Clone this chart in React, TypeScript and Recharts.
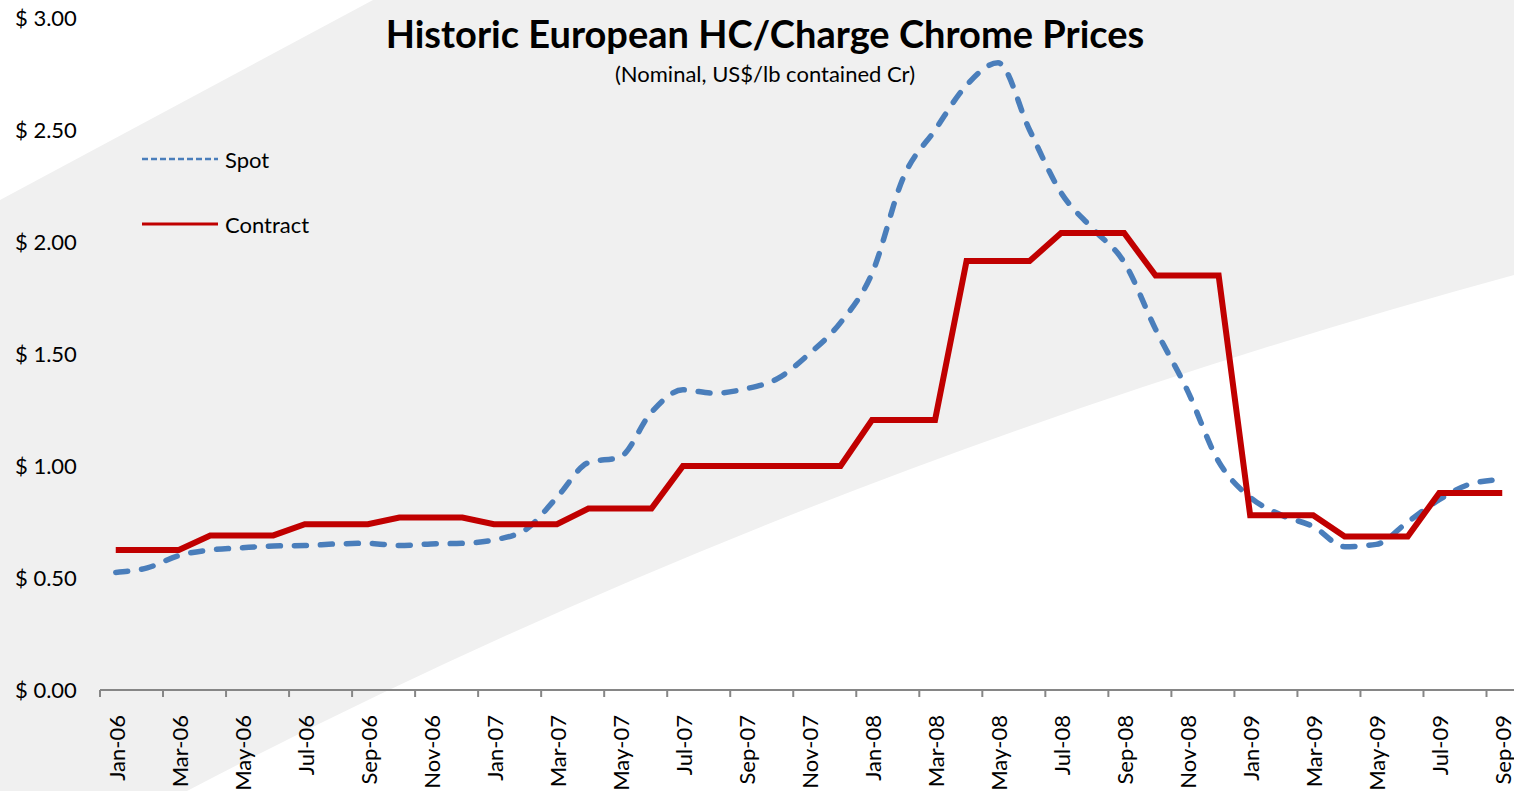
import { LineChart, Line, XAxis, YAxis, Legend } from 'recharts'

const months = [
    'Jan-06', 'Feb-06', 'Mar-06', 'Apr-06', 'May-06', 'Jun-06', 'Jul-06', 'Aug-06', 'Sep-06', 'Oct-06', 'Nov-06', 'Dec-06',
    'Jan-07', 'Feb-07', 'Mar-07', 'Apr-07', 'May-07', 'Jun-07', 'Jul-07', 'Aug-07', 'Sep-07', 'Oct-07', 'Nov-07', 'Dec-07',
    'Jan-08', 'Feb-08', 'Mar-08', 'Apr-08', 'May-08', 'Jun-08', 'Jul-08', 'Aug-08', 'Sep-08', 'Oct-08', 'Nov-08', 'Dec-08',
    'Jan-09', 'Feb-09', 'Mar-09', 'Apr-09', 'May-09', 'Jun-09', 'Jul-09', 'Aug-09', 'Sep-09',
]

const spot = [
    0.525, 0.545, 0.6, 0.625, 0.635, 0.643, 0.645, 0.652, 0.655, 0.645, 0.652, 0.655,
    0.67, 0.715, 0.86, 1.015, 1.04, 1.24, 1.34, 1.325, 1.345, 1.39, 1.5, 1.64,
    1.86, 2.29, 2.5, 2.7, 2.8, 2.5, 2.22, 2.06, 1.91, 1.61, 1.34, 1.02,
    0.86, 0.78, 0.73, 0.64, 0.65, 0.75, 0.85, 0.92, 0.94,
]

const contract = [
    0.625, 0.625, 0.625, 0.69, 0.69, 0.69, 0.74, 0.74, 0.74, 0.77, 0.77, 0.77,
    0.74, 0.74, 0.74, 0.81, 0.81, 0.81, 1.0, 1.0, 1.0, 1.0, 1.0, 1.0,
    1.205, 1.205, 1.205, 1.915, 1.915, 1.915, 2.04, 2.04, 2.04, 1.85, 1.85, 1.85,
    0.78, 0.78, 0.78, 0.685, 0.685, 0.685, 0.88, 0.88, 0.88,
]

const yTicks = [0, 0.5, 1, 1.5, 2, 2.5, 3]

const FONT = 'Lato, sans-serif'
const AXIS_GREY = '#868686'
// half of one month's slot on the x axis (plot is 1418px for 45 months)
const HALF_SLOT = 15.75

const data = months.map((m, i) => ({ month: m, spot: spot[i], contract: contract[i] }))

const YTick = (props: any) => {
    const { y, payload } = props
    return (
        <text x={15} y={y} dy={8} textAnchor="start" fontSize={22} fontFamily={FONT} fill="#000">
            {`$ ${Number(payload.value).toFixed(2)}`}
        </text>
    )
}

const XTick = (props: any) => {
    const { x, y, payload } = props
    // tick marks sit on the month boundary, not the centre
    return (
        <g>
            <line x1={x - HALF_SLOT} x2={x - HALF_SLOT} y1={y} y2={y + 7} stroke={AXIS_GREY} strokeWidth={2} />
            <text
                transform={`translate(${x + 9},${y + 25}) rotate(-90)`}
                textAnchor="end"
                fontSize={22}
                fontFamily={FONT}
                fill="#000"
            >
                {payload.value}
            </text>
        </g>
    )
}

const LegendBox = () => (
    <div style={{ fontFamily: FONT, fontSize: 22, color: '#000' }}>
        <div style={{ display: 'flex', alignItems: 'center', height: 40, marginBottom: 25 }}>
            <svg width={76} height={6}>
                <line x1={0} x2={76} y1={3} y2={3} stroke="#4a7ebb" strokeWidth={2.5} strokeDasharray="6 3" />
            </svg>
            <span style={{ marginLeft: 7 }}>Spot</span>
        </div>
        <div style={{ display: 'flex', alignItems: 'center', height: 40 }}>
            <svg width={76} height={6}>
                <line x1={0} x2={76} y1={3} y2={3} stroke="#c00000" strokeWidth={3} />
            </svg>
            <span style={{ marginLeft: 7 }}>Contract</span>
        </div>
    </div>
)

export default function App() {
    return (
        <div
            style={{
                position: 'fixed',
                left: 0,
                top: 0,
                width: 1514,
                height: 791,
                overflow: 'hidden',
                background: '#fff',
            }}
        >
            <svg width={1514} height={791} style={{ position: 'absolute', left: 0, top: 0 }}>
                <path d="M0,200 L373,0 L1514,0 L1514,275 Q800,470 187,791 L0,791 Z" fill="#f0f0f0" />
                <text x={765} y={48} textAnchor="middle" fontSize={38} fontWeight="bold" fontFamily={FONT} fill="#000">
                    Historic European HC/Charge Chrome Prices
                </text>
                <text x={765} y={82} textAnchor="middle" fontSize={22} fontFamily={FONT} fill="#000">
                    (Nominal, US$/lb contained Cr)
                </text>
            </svg>
            <div style={{ position: 'absolute', left: 0, top: 0 }}>
                <LineChart width={1530} height={791} data={data} margin={{ top: 18, right: 12, left: 0, bottom: 0 }}>
                    <XAxis
                        dataKey="month"
                        interval={1}
                        height={101}
                        padding={{ left: HALF_SLOT, right: HALF_SLOT }}
                        tickLine={false}
                        tickSize={0}
                        tickMargin={0}
                        axisLine={{ stroke: AXIS_GREY, strokeWidth: 2 }}
                        tick={<XTick />}
                    />
                    <YAxis
                        width={100}
                        domain={[0, 3]}
                        ticks={yTicks}
                        axisLine={false}
                        tickLine={false}
                        tick={<YTick />}
                    />
                    <Legend
                        layout="vertical"
                        align="center"
                        verticalAlign="middle"
                        wrapperStyle={{ left: 142, top: 139, width: 250 }}
                        content={<LegendBox />}
                    />
                    <Line
                        type="monotone"
                        dataKey="spot"
                        stroke="#4a7ebb"
                        strokeWidth={5.5}
                        strokeDasharray="12 14"
                        strokeLinecap="round"
                        dot={false}
                        isAnimationActive={false}
                    />
                    <Line
                        type="linear"
                        dataKey="contract"
                        stroke="#c00000"
                        strokeWidth={6}
                        dot={false}
                        isAnimationActive={false}
                    />
                </LineChart>
            </div>
        </div>
    )
}
